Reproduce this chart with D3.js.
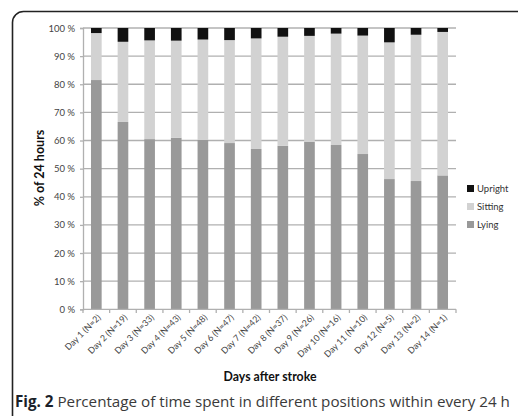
<!DOCTYPE html>
<html><head><meta charset="utf-8">
<script src="https://cdn.jsdelivr.net/npm/d3@7/dist/d3.min.js"></script>
<style>body{margin:0;background:#fff;}svg{display:block;}</style>
</head><body>
<script>
const categories = ["Day 1 (N=2)","Day 2 (N=19)","Day 3 (N=33)","Day 4 (N=43)","Day 5 (N=48)","Day 6 (N=47)","Day 7 (N=42)","Day 8 (N=37)","Day 9 (N=26)","Day 10 (N=16)","Day 11 (N=10)","Day 12 (N=5)","Day 13 (N=2)","Day 14 (N=1)"];
const lying   = [81.5,66.6,60.5,61.0,60.2,59.1,57.0,58.1,59.5,58.4,55.2,46.3,45.6,47.6];
const sitting = [16.7,28.5,35.1,34.5,35.7,36.6,39.3,38.8,37.7,39.6,42.1,48.6,52.0,51.0];
const upright = [1.8,4.9,4.4,4.5,4.1,4.3,3.7,3.1,2.8,2.0,2.7,5.1,2.4,1.4];
const seriesNames = ["Lying","Sitting","Upright"];
const yTicks = [0,10,20,30,40,50,60,70,80,90,100];

const W=518,H=416;
const svg=d3.select("body").append("svg").attr("width",W).attr("height",H);
const font="Lato, 'Open Sans', sans-serif";

// frame
svg.append("rect").attr("x",12.5).attr("y",11.5).attr("width",540).attr("height",440)
  .attr("rx",11).attr("fill","none").attr("stroke","#222").attr("stroke-width",1.6);

const x=d3.scaleBand().domain(categories).range([83,456]).paddingInner(0.6).paddingOuter(0.3);
const y=d3.scaleLinear().domain([0,100]).range([309.3,28]);
const colors={Lying:"#999999",Sitting:"#d2d2d2",Upright:"#111111"};

// gridlines
svg.append("g").selectAll("line").data(yTicks.filter(d=>d>0)).join("line")
  .attr("x1",83).attr("x2",456).attr("y1",d=>y(d)).attr("y2",d=>y(d))
  .attr("stroke","#b0b0b0").attr("stroke-width",1.3);

const rows=categories.map((c,i)=>({cat:c,Lying:lying[i],Sitting:sitting[i],Upright:upright[i]}));
const stack=d3.stack().keys(seriesNames)(rows);
svg.append("g").selectAll("g").data(stack).join("g").attr("fill",d=>colors[d.key])
  .selectAll("rect").data(d=>d).join("rect")
  .attr("x",d=>x(d.data.cat)).attr("width",x.bandwidth())
  .attr("y",d=>y(Math.min(d[1],100))).attr("height",d=>y(d[0])-y(Math.min(d[1],100)));

// y axis
const yAxis=svg.append("g").attr("transform","translate(83,0)")
  .call(d3.axisLeft(y).tickValues(yTicks).tickSize(3).tickFormat(d=>d+" %"));
yAxis.select(".domain").attr("stroke","#b0b0b0").attr("stroke-width",1.3);
yAxis.selectAll(".tick line").attr("stroke","#b0b0b0").attr("stroke-width",1.3);
yAxis.selectAll("text").attr("font-family",font).attr("font-size",9.5).attr("fill","#444").attr("x",-8);

// x axis
const bounds=d3.range(categories.length+1).map(i=>83+i*(373/categories.length));
const xg=svg.append("g");
xg.append("line").attr("x1",83).attr("x2",456).attr("y1",309.3).attr("y2",309.3).attr("stroke","#b0b0b0").attr("stroke-width",1.3);
xg.selectAll(".tk").data(bounds).join("line").attr("class","tk")
  .attr("x1",d=>d).attr("x2",d=>d).attr("y1",309.3).attr("y2",313).attr("stroke","#b0b0b0").attr("stroke-width",1.3);
xg.selectAll("text").data(categories).join("text")
  .attr("transform",d=>`translate(${x(d)+x.bandwidth()/2+5},${318}) rotate(-45)`)
  .attr("text-anchor","end").attr("font-family",font).attr("font-size",8.8).attr("fill","#444").text(d=>d);

// axis titles
svg.append("text").attr("transform","translate(44,168) rotate(-90)").attr("text-anchor","middle")
  .attr("font-family",font).attr("font-weight","bold").attr("font-size",12.5).attr("fill","#111").text("% of 24 hours");
svg.append("text").attr("x",270).attr("y",381).attr("text-anchor","middle")
  .attr("font-family",font).attr("font-weight","bold").attr("font-size",12.3).attr("fill","#111").text("Days after stroke");

// legend
const leg=svg.append("g");
["Upright","Sitting","Lying"].forEach((k,i)=>{
  const yy=189+i*18;
  leg.append("rect").attr("x",467).attr("y",yy-4).attr("width",7).attr("height",7).attr("fill",colors[k]);
  leg.append("text").attr("x",477).attr("y",yy+3).attr("font-family",font).attr("font-size",9.5).attr("fill","#333").text(k);
});

// caption
const cap=svg.append("text").attr("x",15).attr("y",407).attr("font-family","'Open Sans', sans-serif").attr("font-size",15.2).attr("fill","#3a3a3a");
cap.append("tspan").attr("font-weight","bold").attr("fill","#1a1f2a").text("Fig. 2");
cap.append("tspan").text(" Percentage of time spent in different positions within every 24 h");
</script>
</body></html>
